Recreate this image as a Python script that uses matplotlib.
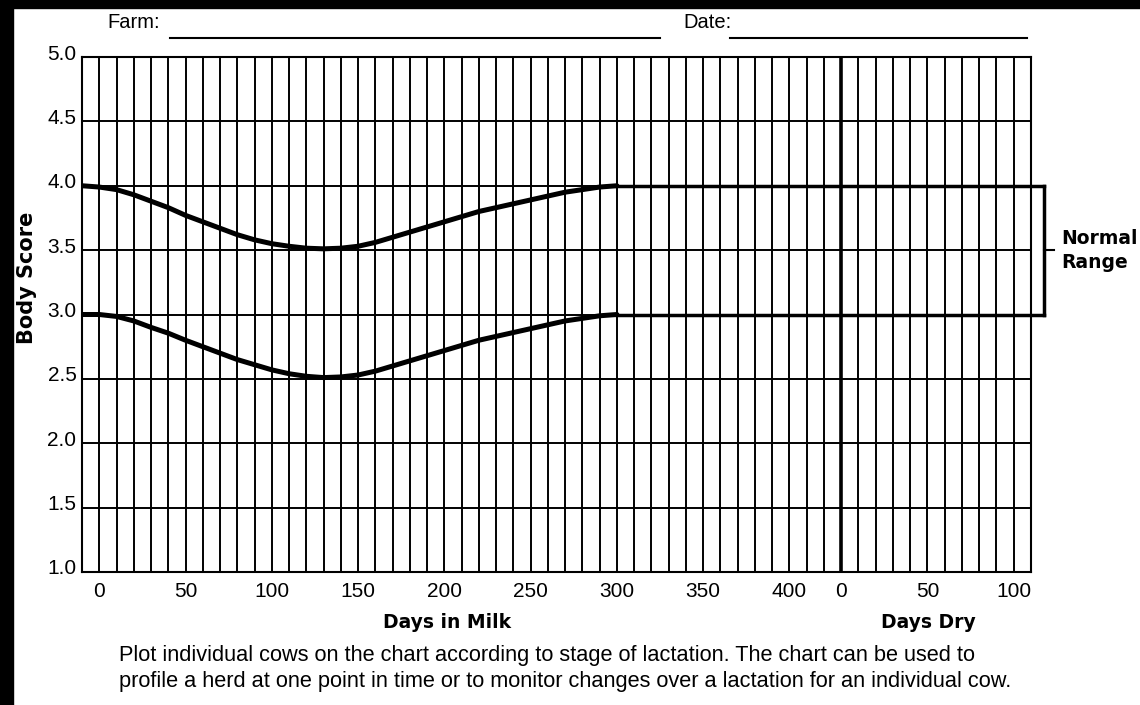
import numpy as np
import matplotlib.pyplot as plt
from matplotlib.patches import Rectangle
from matplotlib.transforms import ScaledTranslation

# Body condition score guide curves (days in milk, score)
dias = [-10, 0, 10, 20, 30, 40, 50, 60, 70, 80, 90, 100, 110, 120, 130, 140, 150,
        160, 170, 180, 190, 200, 210, 220, 230, 240, 250, 260, 270, 280, 290, 300]
limite_sup = [4.00, 3.99, 3.97, 3.93, 3.88, 3.83, 3.77, 3.72, 3.67, 3.62, 3.58, 3.55, 3.53,
              3.515, 3.51, 3.515, 3.53, 3.56, 3.60, 3.64, 3.68, 3.72, 3.76, 3.80, 3.83,
              3.86, 3.89, 3.92, 3.95, 3.97, 3.99, 4.00]
limite_inf = [3.00, 3.00, 2.985, 2.95, 2.90, 2.855, 2.80, 2.75, 2.70, 2.65, 2.61, 2.57, 2.54,
              2.52, 2.51, 2.515, 2.53, 2.56, 2.60, 2.64, 2.68, 2.72, 2.76, 2.80, 2.83,
              2.86, 2.89, 2.92, 2.95, 2.97, 2.99, 3.00]
rango_normal = [3.0, 4.0]

ticks_leche = [0, 50, 100, 150, 200, 250, 300, 350, 400]
ticks_seco = [0, 50, 100]
inicio_seco = 430   # position where the dry period starts on the day axis
ticks_y = [1.0, 1.5, 2.0, 2.5, 3.0, 3.5, 4.0, 4.5, 5.0]

W, H = 1140, 705
fig = plt.figure(figsize=(W / 100, H / 100), dpi=100)
fig.patch.set_facecolor('white')

# black strips on top and left edge
fig.patches.append(Rectangle((0, 1 - 8 / H), 1, 8 / H, transform=fig.transFigure,
                             color='black', zorder=0))
fig.patches.append(Rectangle((0, 0), 13 / W, 1, transform=fig.transFigure,
                             color='black', zorder=0))

ax = fig.add_axes([82 / W, (H - 572) / H, (1031 - 82) / W, (572 - 57) / H])
ax.set_xlim(-10, 540)
ax.set_ylim(1, 5)

# grid
for x in range(0, 540, 10):
    ax.axvline(x, color='black', lw=1.4, zorder=1)
for y in ticks_y[1:-1]:
    ax.axhline(y, color='black', lw=1.4, zorder=1)
ax.axvline(inicio_seco, color='black', lw=2.6, zorder=2)
for s in ax.spines.values():
    s.set_linewidth(1.5)

# curves
ax.plot(dias, limite_sup, color='black', lw=3.6, solid_capstyle='round', zorder=3)
ax.plot(dias, limite_inf, color='black', lw=3.6, solid_capstyle='round', zorder=3)

# normal range box / bracket
x_brk = 547.5
for r in rango_normal:
    ax.plot([300, x_brk], [r, r], color='black', lw=2.5, clip_on=False, zorder=3)
ax.plot([x_brk, x_brk], rango_normal, color='black', lw=2.5, clip_on=False, zorder=3)
ax.plot([x_brk, 553.5], [3.5, 3.5], color='black', lw=1.5, clip_on=False, zorder=3)
ax.text(557.5, 3.5, 'Normal\nRange', fontsize=13.5, fontweight='bold', family='DejaVu Sans',
        ha='left', va='center', linespacing=1.35)

# ticks
pos = ticks_leche + [inicio_seco + t for t in ticks_seco]
ax.set_xticks(pos)
ax.set_xticklabels([str(t) for t in ticks_leche + ticks_seco])
ax.set_yticks(ticks_y)
ax.set_yticklabels(['%.1f' % t for t in ticks_y])
ax.tick_params(axis='x', length=0, labelsize=15, pad=7)
ax.tick_params(axis='y', length=0, labelsize=15, pad=4)
for lab in ax.get_xticklabels() + ax.get_yticklabels():
    lab.set_family('Liberation Sans')
for lab in ax.get_yticklabels():
    lab.set_transform(lab.get_transform() + ScaledTranslation(0, 0.05, fig.dpi_scale_trans))

# axis titles
fig.text(27 / W, 1 - 278 / H, 'Body Score', rotation=90, fontsize=15, fontweight='bold',
         family='DejaVu Sans', ha='center', va='center')
fig.text(447 / W, 1 - 623 / H, 'Days in Milk', fontsize=13.5, fontweight='bold',
         family='DejaVu Sans', ha='center', va='center')
fig.text(928 / W, 1 - 623 / H, 'Days Dry', fontsize=13.5, fontweight='bold',
         family='DejaVu Sans', ha='center', va='center')

# header
fig.text(107 / W, 1 - 22 / H, 'Farm:', fontsize=14.5, family='Liberation Sans',
         ha='left', va='center')
fig.text(683 / W, 1 - 22 / H, 'Date:', fontsize=14.5, family='Liberation Sans',
         ha='left', va='center')
fig.add_artist(plt.Line2D([170 / W, 660 / W], [1 - 38 / H] * 2, color='black', lw=1.5))
fig.add_artist(plt.Line2D([730 / W, 1027 / W], [1 - 38 / H] * 2, color='black', lw=1.5))

# caption
fig.text(119 / W, 1 - 656 / H,
         'Plot individual cows on the chart according to stage of lactation. The chart can be used to',
         fontsize=15.7, family='Liberation Sans', ha='left', va='center')
fig.text(119 / W, 1 - 682 / H,
         'profile a herd at one point in time or to monitor changes over a lactation for an individual cow.',
         fontsize=15.7, family='Liberation Sans', ha='left', va='center')

fig.savefig('out.png', dpi=100)
